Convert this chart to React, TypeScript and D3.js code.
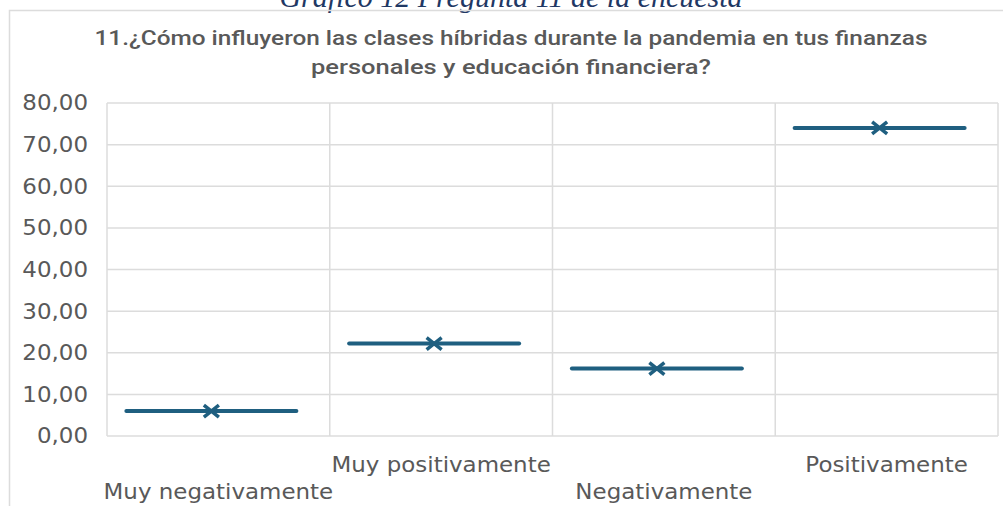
import React from "react";
import * as d3 from "d3";

const categories = ["Muy negativamente", "Muy positivamente", "Negativamente", "Positivamente"];
const values = [6.0, 22.2, 16.2, 74.0];
const yTicks = [0, 10, 20, 30, 40, 50, 60, 70, 80];
const captionText = "Gráfico 12 Pregunta 11 de la encuesta";
const titleLines = [
  "11.¿Cómo influyeron las clases híbridas durante la pandemia en tus finanzas",
  "personales y educación financiera?",
];
const titleWidths = [833, 400];

const W = 1003;
const H = 506;
const plot = { left: 107, right: 998, top: 103, bottom: 436 };

export default function App() {
  const x = d3.scaleBand<string>().domain(categories).range([plot.left, plot.right]).padding(0);
  const y = d3.scaleLinear().domain([0, 80]).range([plot.bottom, plot.top]);
  const fmt = (v: number) => d3.format(".2f")(v).replace(".", ",");
  const bw = x.bandwidth();
  const markerOffset = -7;
  const halfLen = 85;
  const gridColor = "#dcdcdc";
  const seriesColor = "#1f5f80";
  const textColor = "#595959";
  const axisFont = "DejaVu Sans, Verdana, sans-serif";
  const sx = 1.12;

  return (
    <svg width={W} height={H} style={{ position: "absolute", left: 0, top: 0, background: "#fff" }}>
      <rect x={0} y={0} width={W} height={H} fill="#fff" />
      <text
        x={511}
        y={7}
        textAnchor="middle"
        fontFamily="Liberation Serif, serif"
        fontStyle="italic"
        fontSize={30}
        fill="#1f3864"
      >
        {captionText}
      </text>
      <path d={`M9.5,${H} V10.5 H${W}`} fill="none" stroke={gridColor} strokeWidth={1.5} />
      {titleLines.map((t, i) => (
        <text
          key={i}
          x={511}
          y={45 + i * 29}
          textAnchor="middle"
          fontFamily="Roboto, sans-serif"
          fontWeight={500}
          fontSize={19.5}
          fill={textColor}
          textLength={titleWidths[i]}
          lengthAdjust="spacingAndGlyphs"
        >
          {t}
        </text>
      ))}
      {yTicks.map((t) => (
        <line key={"h" + t} x1={plot.left} x2={plot.right} y1={y(t)} y2={y(t)} stroke={gridColor} strokeWidth={1.5} />
      ))}
      {[...categories.map((c) => x(c) as number), plot.right].map((xv, i) => (
        <line key={"v" + i} x1={xv} x2={xv} y1={plot.top} y2={plot.bottom} stroke={gridColor} strokeWidth={1.5} />
      ))}
      {yTicks.map((t) => (
        <text
          key={"yl" + t}
          transform={`translate(88,${y(t)}) scale(${sx},1)`}
          dy="0.36em"
          textAnchor="end"
          fontFamily={axisFont}
          fontSize={20.5}
          fill={textColor}
        >
          {fmt(t)}
        </text>
      ))}
      {categories.map((c, i) => (
        <text
          key={"xl" + c}
          transform={`translate(${(x(c) as number) + bw / 2},${i % 2 === 1 ? 472 : 499}) scale(${sx},1)`}
          textAnchor="middle"
          fontFamily={axisFont}
          fontSize={20.5}
          fill={textColor}
        >
          {c}
        </text>
      ))}
      {categories.map((c, i) => {
        const cx = (x(c) as number) + bw / 2 + markerOffset;
        const cy = y(values[i]);
        const sw = 7.5;
        const sh = 6;
        return (
          <g key={"s" + c}>
            <line x1={cx - halfLen} x2={cx + halfLen} y1={cy} y2={cy} stroke={seriesColor} strokeWidth={4} strokeLinecap="round" />
            <path
              d={`M${cx - sw},${cy - sh}L${cx + sw},${cy + sh}M${cx - sw},${cy + sh}L${cx + sw},${cy - sh}`}
              stroke={seriesColor}
              strokeWidth={3.5}
              fill="none"
            />
          </g>
        );
      })}
    </svg>
  );
}
